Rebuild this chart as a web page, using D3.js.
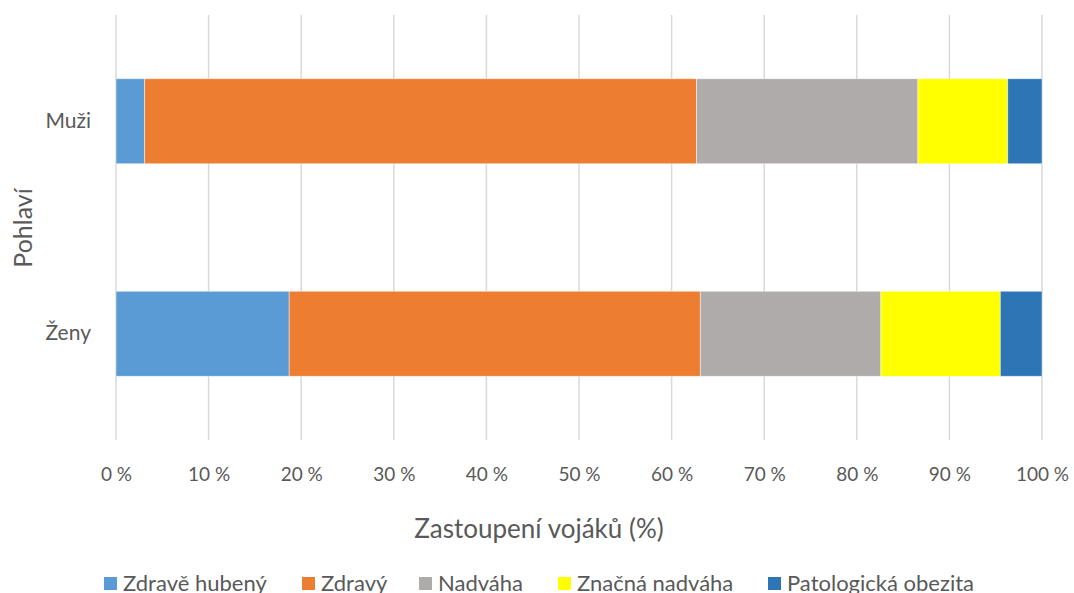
<!DOCTYPE html>
<html>
<head>
<meta charset="utf-8">
<script src="https://cdn.jsdelivr.net/npm/d3@7/dist/d3.min.js"></script>
<style>
  body { margin: 0; background: #fff; }
  svg { font-family: Lato, "Open Sans", sans-serif; }
</style>
</head>
<body>
<svg id="container"></svg>
<script>
// data (percent of soldiers)
const categories = ["Muži", "Ženy"];
const seriesNames = ["Zdravě hubený", "Zdravý", "Nadváha", "Značná nadváha", "Patologická obezita"];
const seriesColors = ["#5b9bd5", "#ed7d31", "#afabab", "#ffff00", "#2e75b6"];
const muzi = [3.1, 59.6, 23.9, 9.7, 3.7];
const zeny = [18.7, 44.4, 19.5, 12.9, 4.5];
const xTicks = [0, 10, 20, 30, 40, 50, 60, 70, 80, 90, 100];

const width = 1074, height = 593;
const margin = {left: 116, right: 32, top: 15, bottom: 153};
const textColor = "#595959";

const svg = d3.select("#container")
    .attr("width", width)
    .attr("height", height);

const x = d3.scaleLinear()
    .domain([0, 100])
    .range([margin.left, width - margin.right]);

const y = d3.scaleBand()
    .domain(categories)
    .range([margin.top, height - margin.bottom])
    .paddingInner(0.6)
    .paddingOuter(0.3);

// stack rows
const rows = [muzi, zeny].map((vals, i) => {
    const row = {cat: categories[i]};
    seriesNames.forEach((s, j) => row[s] = vals[j]);
    return row;
});
const stacked = d3.stack().keys(seriesNames)(rows);

// gridlines
svg.append("g")
    .selectAll("line")
    .data(xTicks)
    .join("line")
    .attr("x1", d => x(d))
    .attr("x2", d => x(d))
    .attr("y1", margin.top)
    .attr("y2", height - margin.bottom)
    .attr("stroke", "#d9d9d9")
    .attr("stroke-width", 1.5);

// bars
svg.append("g")
    .selectAll("g")
    .data(stacked)
    .join("g")
    .attr("fill", (d, i) => seriesColors[i])
    .selectAll("rect")
    .data(d => d)
    .join("rect")
    .attr("x", d => x(d[0]))
    .attr("y", d => y(d.data.cat))
    .attr("width", d => x(d[1]) - x(d[0]))
    .attr("height", y.bandwidth())
    .attr("stroke", "#ffffff")
    .attr("stroke-opacity", 0.6)
    .attr("stroke-width", 0.75);

// x axis labels
const xAxis = svg.append("g")
    .attr("transform", `translate(0,${height - margin.bottom + 24})`)
    .call(d3.axisBottom(x).tickValues(xTicks).tickSize(0).tickFormat(d => d + " %"));
xAxis.select(".domain").remove();
xAxis.selectAll("text")
    .attr("fill", textColor)
    .attr("font-size", 19)
    .attr("font-family", "Lato, 'Open Sans', sans-serif");

// y axis labels
const yAxis = svg.append("g")
    .attr("transform", `translate(${margin.left - 22},0)`)
    .call(d3.axisLeft(y).tickSize(0));
yAxis.select(".domain").remove();
yAxis.selectAll("text")
    .attr("fill", textColor)
    .attr("font-size", 21)
    .attr("font-family", "Lato, 'Open Sans', sans-serif");

// axis titles
svg.append("text")
    .attr("x", 539)
    .attr("y", 538)
    .attr("text-anchor", "middle")
    .attr("fill", textColor)
    .attr("font-size", 26)
    .text("Zastoupení vojáků (%)");

svg.append("text")
    .attr("transform", `translate(32,228) rotate(-90)`)
    .attr("text-anchor", "middle")
    .attr("fill", textColor)
    .attr("font-size", 25)
    .text("Pohlaví");

// legend
const legendX = [104, 302, 419, 558, 768];
const legend = svg.append("g")
    .selectAll("g")
    .data(seriesNames)
    .join("g")
    .attr("transform", (d, i) => `translate(${legendX[i]},577)`);
legend.append("rect")
    .attr("width", 13)
    .attr("height", 13)
    .attr("fill", (d, i) => seriesColors[i]);
legend.append("text")
    .attr("x", 19)
    .attr("y", 14)
    .attr("fill", textColor)
    .attr("font-size", 22)
    .text(d => d);
</script>
</body>
</html>
